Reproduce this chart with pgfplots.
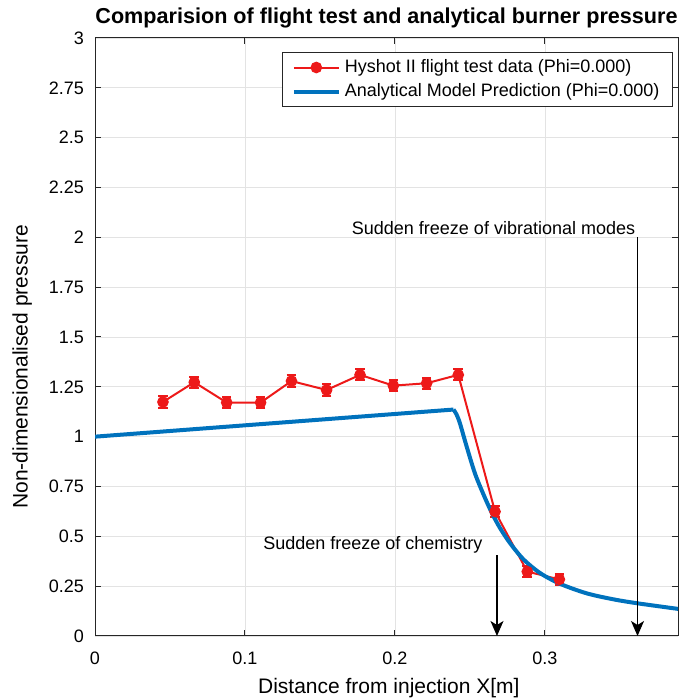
\documentclass[border=0pt]{standalone}
\usepackage{fontspec}
\setmainfont{Liberation Sans}
\usepackage{pgfplots}
\pgfplotsset{compat=1.18}
\usetikzlibrary{arrows.meta}
\definecolor{mblue}{rgb}{0,0.447,0.741}
\definecolor{mred}{rgb}{0.93,0.1,0.1}
\definecolor{axgray}{gray}{0.15}
\begin{document}
\begin{tikzpicture}
\begin{axis}[
  scale only axis, width=291.5pt, height=299pt,
  xmin=0, xmax=0.3887, ymin=0, ymax=3,
  xtick={0,0.1,0.2,0.3},
  ytick={0,0.25,0.5,0.75,1,1.25,1.5,1.75,2,2.25,2.5,2.75,3},
  yticklabels={0,0.25,0.5,0.75,1,1.25,1.5,1.75,2,2.25,2.5,2.75,3},
  xticklabels={0,0.1,0.2,0.3},
  tick label style={font=\fontsize{9}{10}\selectfont},
  xticklabel style={yshift=-4.5pt},
  yticklabel style={xshift=-2pt},
  tick align=inside, major tick length=3pt,
  tick style={axgray, line width=0.5pt},
  axis line style={axgray, line width=0.5pt},
  grid=major, grid style={gray!22, line width=0.4pt},
  title={\bfseries Comparision of flight test and analytical burner pressure},
  title style={font=\fontsize{10.8}{12}\selectfont, at={(axis description cs:0.5,1)}, anchor=base, yshift=1pt},
  xlabel={Distance from injection X[m]},
  ylabel={Non-dimensionalised pressure},
  label style={font=\fontsize{10.5}{12}\selectfont},
  xlabel style={at={(axis description cs:0.504,-0.087)}, anchor=center},
  ylabel style={at={(axis description cs:-0.125,0.45)}, anchor=center},
  legend style={at={(0.9914,0.9766)}, anchor=north east, draw=axgray, line width=0.5pt,
    font=\fontsize{9}{10}\selectfont, row sep=0pt, inner xsep=4.5pt, inner ysep=1.5pt},
  legend cell align=left,
  legend image code/.code={\draw[mark repeat=2,mark phase=2] plot coordinates {(0pt,0pt) (11.25pt,0pt) (22.5pt,0pt)};},
]
\addplot[mred, line width=1pt, mark=*, mark size=2.4pt, mark options={fill=mred, draw=mred},
  error bars/.cd, y dir=both, y explicit,
  error bar style={mred, line width=1pt},
  error mark options={mred, mark size=2.4pt, line width=1pt, rotate=90}]
coordinates {
(0.0453,1.174) +- (0,0.028)
(0.0662,1.273) +- (0,0.028)
(0.0878,1.171) +- (0,0.028)
(0.1104,1.171) +- (0,0.028)
(0.1310,1.279) +- (0,0.028)
(0.1544,1.234) +- (0,0.028)
(0.1767,1.310) +- (0,0.028)
(0.1989,1.256) +- (0,0.028)
(0.2211,1.268) +- (0,0.028)
(0.2422,1.310) +- (0,0.028)
(0.2667,0.624) +- (0,0.028)
(0.2882,0.323) +- (0,0.028)
(0.3096,0.284) +- (0,0.028)
};
\addlegendentry{Hyshot II flight test data (Phi=0.000)}
\addplot[mblue, line width=2pt, line join=round, forget plot] coordinates {
(0,1.0) (0.2390,1.136)
};
\addplot[mblue, line width=2pt, line join=round, smooth, tension=0.5] coordinates {
(0.2390,1.136) (0.2410,1.112) (0.2433,1.067) (0.2478,0.950) (0.2533,0.816)
(0.2589,0.712) (0.2644,0.620) (0.2700,0.542) (0.2767,0.466) (0.2856,0.385)
(0.2967,0.316) (0.3100,0.262) (0.3278,0.214) (0.3456,0.184) (0.3617,0.164) (0.3887,0.136)
};
\addlegendentry{Analytical Model Prediction (Phi=0.000)}
\draw[-{Stealth[length=7.5pt,width=6.5pt,inset=2pt]}, line width=0.6pt] (axis cs:0.268,0.406) -- (axis cs:0.268,0.0);
\draw[-{Stealth[length=7.5pt,width=6.5pt,inset=2pt]}, line width=0.6pt] (axis cs:0.3617,2.0) -- (axis cs:0.3617,0.0);
\node[font=\fontsize{9}{10}\selectfont, inner sep=0pt] at (axis cs:0.1853,0.455) {Sudden freeze of chemistry};
\node[font=\fontsize{9}{10}\selectfont, inner sep=0pt] at (axis cs:0.2657,2.047) {Sudden freeze of vibrational modes};
\coordinate (SW) at (rel axis cs:0,0);
\coordinate (NE) at (rel axis cs:1,1);
\end{axis}
\pgfresetboundingbox
\useasboundingbox ([shift={(-47.5pt,-31pt)}]SW) rectangle ([yshift=19pt]NE);
\end{tikzpicture}
\end{document}
